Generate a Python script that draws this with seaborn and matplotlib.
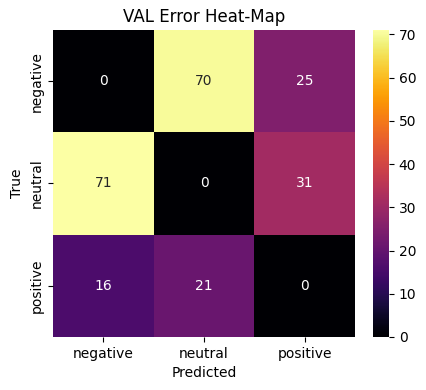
import matplotlib
matplotlib.use("Agg")
import matplotlib.pyplot as plt
import numpy as np
import pandas as pd
import seaborn as sns

# ── Data ───────────────────────────────────────────────────────────────────────
classes = ["negative", "neutral", "positive"]
row_negative = [0, 70, 25]
row_neutral = [71, 0, 31]
row_positive = [16, 21, 0]

cm = pd.DataFrame([row_negative, row_neutral, row_positive], index=classes, columns=classes)

# ── Plot ───────────────────────────────────────────────────────────────────────
fig = plt.figure(figsize=(4.26, 3.9), dpi=100)
ax = fig.add_axes([0.1244, 0.136, 0.709, 0.787])
cax = fig.add_axes([0.8756, 0.136, 0.0376, 0.787])

sns.heatmap(cm, annot=True, fmt="d", cmap="inferno", ax=ax, cbar_ax=cax)
ax.set_title("VAL Error Heat-Map")
ax.set_xlabel("Predicted")
ax.set_ylabel("True")

fig.savefig("out.png", dpi=100)
